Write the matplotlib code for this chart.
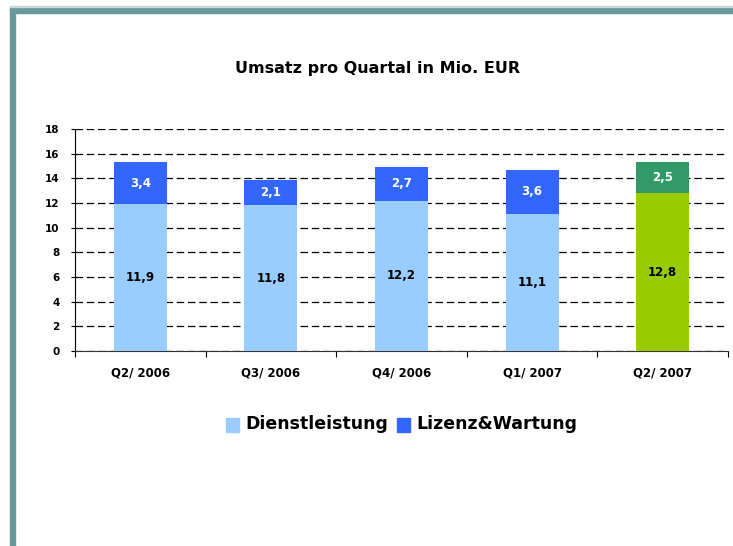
import matplotlib
matplotlib.use("Agg")
import matplotlib.pyplot as plt
from matplotlib.patches import Rectangle
import numpy as np

categories = ["Q2/ 2006", "Q3/ 2006", "Q4/ 2006", "Q1/ 2007", "Q2/ 2007"]
dienstleistung = [11.9, 11.8, 12.2, 11.1, 12.8]
lizenz = [3.4, 2.1, 2.7, 3.6, 2.5]
labels_d = ["11,9", "11,8", "12,2", "11,1", "12,8"]
labels_l = ["3,4", "2,1", "2,7", "3,6", "2,5"]
yticks = [0, 2, 4, 6, 8, 10, 12, 14, 16, 18]

plt.rcParams['font.family'] = ['DejaVu Sans']

W, H = 733, 546
fig = plt.figure(figsize=(W/100, H/100), dpi=100)

# frame
frame_col = "#669999"
fig.patches.append(Rectangle((10/W, 1-13/H), 1-10/W, 6/H, transform=fig.transFigure, color=frame_col, zorder=0))
fig.patches.append(Rectangle((10/W, 0), 5/W, 1-7/H, transform=fig.transFigure, color=frame_col, zorder=0))
fig.patches.append(Rectangle((10/W, 1-7/H), 1-10/W, 1/H, transform=fig.transFigure, color="#c8d8d8", zorder=0))

ax = fig.add_axes([75/W, 1-351/H, (728-75)/W, (351-129)/H])
x = np.arange(len(categories))
light_cols = ["#99CCFF"]*4 + ["#99CC00"]
dark_cols = ["#3366FF"]*4 + ["#339966"]
w = 0.405
ax.bar(x, dienstleistung, width=w, color=light_cols, zorder=3)
ax.bar(x, lizenz, width=w, bottom=dienstleistung, color=dark_cols, zorder=3)

for i in range(len(categories)):
    ax.text(x[i], dienstleistung[i]/2, labels_d[i], ha='center', va='center',
            fontsize=8.5, fontweight='bold', color='black', zorder=4)
    ax.text(x[i], dienstleistung[i] + lizenz[i]/2, labels_l[i], ha='center', va='center',
            fontsize=8.5, fontweight='bold', color='white', zorder=4)

ax.set_xlim(-0.5, len(categories)-0.5)
ax.set_ylim(0, 18)
ax.set_yticks(yticks)
ax.set_yticklabels([str(v) for v in yticks], fontsize=7.5, fontweight='bold')
ax.yaxis.grid(True, linestyle=(0, (6, 3)), color='black', linewidth=0.9, zorder=0)
ax.set_axisbelow(True)
ax.set_xticks(x)
ax.set_xticklabels(categories, fontsize=8.5, fontweight='bold')
ax.tick_params(axis='x', length=0, pad=11)
ax.set_xticks(np.arange(-0.5, len(categories), 1), minor=True)
ax.tick_params(axis='x', which='minor', length=4, direction='out', width=0.8)
ax.tick_params(axis='y', length=3, direction='out', width=0.8, pad=8)
for s in ['top', 'right']:
    ax.spines[s].set_visible(False)
ax.spines['left'].set_color('black')
ax.spines['bottom'].set_color('#333333')
ax.spines['left'].set_linewidth(0.8)
ax.spines['bottom'].set_linewidth(0.8)

fig.text(378/W, 1-68/H, "Umsatz pro Quartal in Mio. EUR", ha='center', va='center',
         fontsize=11.5, fontweight='bold')

# legend
fig.patches.append(Rectangle((226/W, 1-432/H), 13/W, 14/H, transform=fig.transFigure, color="#99CCFF"))
fig.text(245/W, 1-424/H, "Dienstleistung", ha='left', va='center', fontsize=12.5, fontweight='bold')
fig.patches.append(Rectangle((397/W, 1-432/H), 13/W, 14/H, transform=fig.transFigure, color="#3366FF"))
fig.text(416/W, 1-424/H, "Lizenz&Wartung", ha='left', va='center', fontsize=12.5, fontweight='bold')

fig.savefig("out.png", dpi=100)
